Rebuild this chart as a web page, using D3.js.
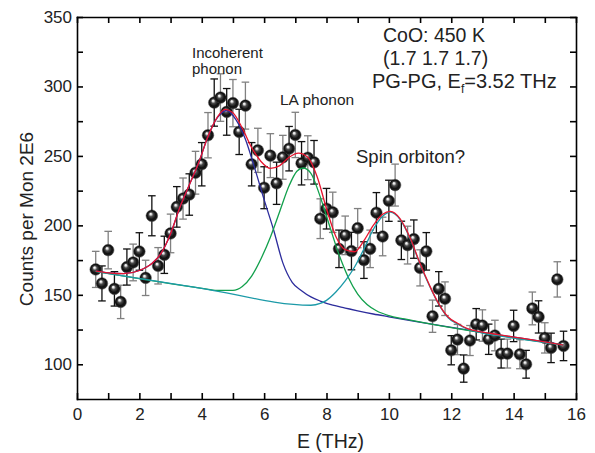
<!DOCTYPE html>
<html>
<head>
<meta charset="utf-8">
<script src="https://cdn.jsdelivr.net/npm/d3@7"></script>
<style>
  body { margin: 0; background: #fff; }
  svg { display: block; font-family: Arial, "Liberation Sans", sans-serif; }
  .axis path, .axis line { stroke: #000; stroke-width: 1.6; }
  .axis text { font-size: 17px; fill: #222; }
  .fit { fill: none; stroke-width: 1.3; }
</style>
</head>
<body>
<svg id="chart"></svg>
<script>
// measured points, E in THz
var energy = [0.6, 0.8, 1.0, 1.2, 1.4, 1.6, 1.8, 2.0, 2.2, 2.4, 2.6, 2.8, 3.0, 3.2, 3.4, 3.6, 3.8, 4.0, 4.2, 4.4,
    4.6, 4.8, 5.0, 5.2, 5.4, 5.6, 5.8, 6.0, 6.2, 6.4, 6.6, 6.8, 7.0, 7.2, 7.4, 7.6, 7.8, 8.0, 8.2, 8.4,
    8.6, 8.8, 9.0, 9.2, 9.4, 9.6, 9.8, 10.0, 10.2, 10.4, 10.6, 10.8, 11.0, 11.2, 11.4, 11.6, 11.8, 12.0, 12.2, 12.4,
    12.6, 12.8, 13.0, 13.2, 13.4, 13.6, 13.8, 14.0, 14.2, 14.4, 14.6, 14.8, 15.0, 15.2, 15.4, 15.6];
var counts = [168.3, 158.2, 182.2, 154.3, 144.9, 170, 173.3, 181.2, 162.2, 206.9, 170.9, 178.8, 194.2, 213.3, 219.3, 222.2, 237.9, 244, 264.9, 288.4,
    292, 281.7, 288, 267.3, 286.2, 244, 254, 227.1, 250.2, 230.3, 249, 255.2, 265.1, 244.7, 248.7, 245.4, 204.8, 212, 209.4, 183.1,
    192.8, 181.5, 198, 175, 183.1, 209.1, 192, 217.7, 229, 189.2, 185.8, 190.1, 169.4, 181.3, 134.6, 154.3, 147.2, 110.1, 117.8, 96.9,
    117.1, 128.8, 127.9, 118, 120.7, 107.7, 107.7, 127.6, 107.2, 100, 140.2, 134.1, 119, 111.8, 161.1, 113.2];
var errors = [13, 12.6, 13.5, 12.4, 12, 13, 13.2, 13.5, 12.7, 14.4, 13.1, 13.4, 13.9, 14.6, 14.8, 14.9, 15.4, 15.6, 16.3, 17,
    17.1, 16.8, 17, 16.3, 16.9, 15.6, 15.9, 15.1, 15.8, 15.2, 15.8, 16, 16.3, 15.6, 15.8, 15.7, 14.3, 14.6, 14.5, 13.5,
    13.9, 13.5, 14.1, 13.2, 13.5, 14.5, 13.9, 14.8, 15.1, 13.8, 13.6, 13.8, 13, 13.5, 11.6, 12.4, 12.1, 10.5, 10.9, 9.8,
    10.8, 11.3, 11.3, 10.9, 11, 10.4, 10.4, 11.3, 10.4, 10, 11.8, 11.6, 10.9, 10.6, 12.7, 10.6];

// fitted curves, [E, counts]
var fitTotal = [[0.6, 167], [1.0, 165.8], [1.5, 165.2], [2.0, 167.5], [2.4, 172.5], [2.7, 180], [3.0, 194], [3.3, 213],
    [3.6, 229], [3.9, 245], [4.2, 264], [4.5, 278], [4.75, 283.5], [5.0, 281], [5.3, 270], [5.6, 256], [5.9, 246],
    [6.2, 241], [6.5, 243], [6.8, 249], [7.1, 252], [7.4, 249], [7.7, 235], [8.0, 212], [8.3, 192], [8.6, 182.5],
    [8.9, 181], [9.2, 189], [9.5, 200], [9.8, 208], [10.05, 210], [10.35, 205], [10.7, 190], [11.0, 172.5],
    [11.3, 157], [11.6, 143.5], [11.9, 134], [12.2, 129.5], [12.5, 125.8], [13.0, 123.2], [13.5, 121.4],
    [14.0, 119.6], [14.5, 117.9], [15.0, 116.1], [15.6, 113.8]];
var fitIncoherent = [[0.6, 167], [1.0, 165.8], [1.5, 165.2], [2.0, 167.5], [2.4, 172.5], [2.7, 180], [3.0, 194], [3.3, 213],
    [3.6, 229], [3.9, 245], [4.2, 264], [4.5, 277.5], [4.8, 282.7], [5.1, 276], [5.4, 262], [5.7, 241], [6.0, 218.5],
    [6.3, 197], [6.6, 173], [6.9, 159], [7.2, 153], [7.5, 148.5], [7.8, 145.5], [8.2, 142.5], [8.6, 140.5],
    [9.0, 138.5], [9.5, 136.2], [10.0, 134.2], [15.6, 114]];
var fitLA = [[0.6, 166.8], [4.0, 154.7], [4.5, 153.2], [5.0, 153.2], [5.3, 156], [5.6, 163.5], [5.9, 176], [6.2, 191.5],
    [6.5, 210], [6.8, 228.5], [7.05, 239], [7.25, 241.3], [7.5, 237.5], [7.8, 220.5], [8.1, 199.5], [8.4, 179],
    [8.7, 162.5], [9.0, 150.5], [9.3, 143], [9.6, 138.5], [10.0, 135], [10.5, 132.6], [15.6, 114]];
var fitOrbiton = [[0.6, 166.8], [4.0, 154.7], [7.5, 142.5], [7.8, 143.8], [8.0, 146], [8.3, 152], [8.6, 160], [8.9, 170], [9.2, 183],
    [9.5, 197], [9.8, 206.5], [10.05, 209.5], [10.35, 204.5], [10.7, 189.5], [11.0, 172], [11.3, 156.5], [11.6, 143],
    [11.9, 133.5], [12.2, 129], [12.5, 125.5], [13.0, 122.5], [13.5, 120.6], [14.0, 118.9], [15.6, 113.8]];

var xTicks = [0, 1, 2, 3, 4, 5, 6, 7, 8, 9, 10, 11, 12, 13, 14, 15, 16];
var xLabels = [0, 2, 4, 6, 8, 10, 12, 14, 16];
var yTicks = [100, 125, 150, 175, 200, 225, 250, 275, 300, 325, 350];
var yLabels = [100, 150, 200, 250, 300, 350];

var margin = { top: 17, right: 19, bottom: 54, left: 77 };
var W = 595, H = 453;
var width = W - margin.left - margin.right;
var height = H - margin.top - margin.bottom;

var x = d3.scaleLinear().domain([0, 16]).range([0, width]);
var y = d3.scaleLinear().domain([75, 350]).range([height, 0]);

var svg = d3.select("#chart")
    .attr("width", W)
    .attr("height", H);

var defs = svg.append("defs");
var grad = defs.append("radialGradient")
    .attr("id", "ball")
    .attr("cx", "50%").attr("cy", "50%").attr("r", "50%")
    .attr("fx", "38%").attr("fy", "32%");
grad.append("stop").attr("offset", "0%").attr("stop-color", "#ffffff");
grad.append("stop").attr("offset", "14%").attr("stop-color", "#e6e6e6");
grad.append("stop").attr("offset", "38%").attr("stop-color", "#4a4a4a");
grad.append("stop").attr("offset", "72%").attr("stop-color", "#101010");
grad.append("stop").attr("offset", "90%").attr("stop-color", "#1c1c1c");
grad.append("stop").attr("offset", "100%").attr("stop-color", "#6a6a6a");

var g = svg.append("g")
    .attr("transform", "translate(" + margin.left + "," + margin.top + ")");

function fmt(list) {
    return function (d) { return list.indexOf(d) >= 0 ? d : ""; };
}

// all four sides, ticks pointing inward
g.append("g").attr("class", "axis")
    .attr("transform", "translate(0," + height + ")")
    .call(d3.axisBottom(x).tickValues(xTicks).tickFormat(fmt(xLabels))
        .tickSizeInner(-6).tickSizeOuter(0).tickPadding(8.5));
g.append("g").attr("class", "axis")
    .call(d3.axisTop(x).tickValues(xTicks).tickFormat("")
        .tickSizeInner(-6).tickSizeOuter(0));
g.append("g").attr("class", "axis")
    .call(d3.axisLeft(y).tickValues(yTicks).tickFormat(fmt(yLabels))
        .tickSizeInner(-6).tickSizeOuter(0).tickPadding(5));
g.append("g").attr("class", "axis")
    .attr("transform", "translate(" + width + ",0)")
    .call(d3.axisRight(y).tickValues(yTicks).tickFormat("")
        .tickSizeInner(-6).tickSizeOuter(0));
g.selectAll(".axis .domain").attr("stroke-linecap", "square");

// error bars
var pts = energy.map(function (e, i) {
    return { e: e, c: counts[i], err: errors[i], i: i };
});
var bars = g.append("g").selectAll("g")
    .data(pts)
    .enter().append("g")
    .attr("stroke", function (d) { return d.i % 2 === 0 ? "#808080" : "#111"; })
    .attr("stroke-width", 1.3);
bars.append("line")
    .attr("x1", function (d) { return x(d.e); })
    .attr("x2", function (d) { return x(d.e); })
    .attr("y1", function (d) { return y(d.c - d.err); })
    .attr("y2", function (d) { return y(d.c + d.err); });
bars.append("line")
    .attr("x1", function (d) { return x(d.e) - 3.8; })
    .attr("x2", function (d) { return x(d.e) + 3.8; })
    .attr("y1", function (d) { return y(d.c + d.err); })
    .attr("y2", function (d) { return y(d.c + d.err); });
bars.append("line")
    .attr("x1", function (d) { return x(d.e) - 3.8; })
    .attr("x2", function (d) { return x(d.e) + 3.8; })
    .attr("y1", function (d) { return y(d.c - d.err); })
    .attr("y2", function (d) { return y(d.c - d.err); });

g.append("g").selectAll("circle")
    .data(pts)
    .enter().append("circle")
    .attr("cx", function (d) { return x(d.e); })
    .attr("cy", function (d) { return y(d.c); })
    .attr("r", 5.8)
    .attr("fill", "url(#ball)")
    .attr("stroke", "#000")
    .attr("stroke-width", 0.4);

var line = d3.line()
    .curve(d3.curveMonotoneX)
    .x(function (d) { return x(d[0]); })
    .y(function (d) { return y(d[1]); });

g.append("path").datum(fitIncoherent).attr("class", "fit").attr("stroke", "#2c2c9c").attr("d", line);
g.append("path").datum(fitLA).attr("class", "fit").attr("stroke", "#12a04c").attr("d", line);
g.append("path").datum(fitOrbiton).attr("class", "fit").attr("stroke", "#1c9aa8").attr("d", line);
g.append("path").datum(fitTotal).attr("class", "fit").attr("stroke", "#e8142e").attr("d", line);

// labels
svg.append("text")
    .attr("x", 330.5).attr("y", 448)
    .attr("text-anchor", "middle")
    .attr("font-size", 19.5).attr("fill", "#222")
    .text("E (THz)");
svg.append("text")
    .attr("transform", "translate(33,219) rotate(-90)")
    .attr("text-anchor", "middle")
    .attr("font-size", 19).attr("fill", "#222")
    .text("Counts per Mon 2E6");

function note(txt, px, py, size) {
    return svg.append("text")
        .attr("x", px).attr("y", py)
        .attr("font-size", size).attr("fill", "#222")
        .text(txt);
}
note("Incoherent", 192, 58, 15);
note("phonon", 192, 74, 15);
note("LA phonon", 280, 105, 15.5);
note("Spin orbiton?", 356, 163, 18.5);
note("CoO: 450 K", 383, 42, 19.5);
note("(1.7 1.7 1.7)", 383, 64.5, 19.5);

var ef = note("PG-PG, E", 372, 88, 20);
ef.append("tspan").attr("font-size", 12).attr("dy", 5).text("f");
ef.append("tspan").attr("dy", -5).text("=3.52 THz");
</script>
</body>
</html>
